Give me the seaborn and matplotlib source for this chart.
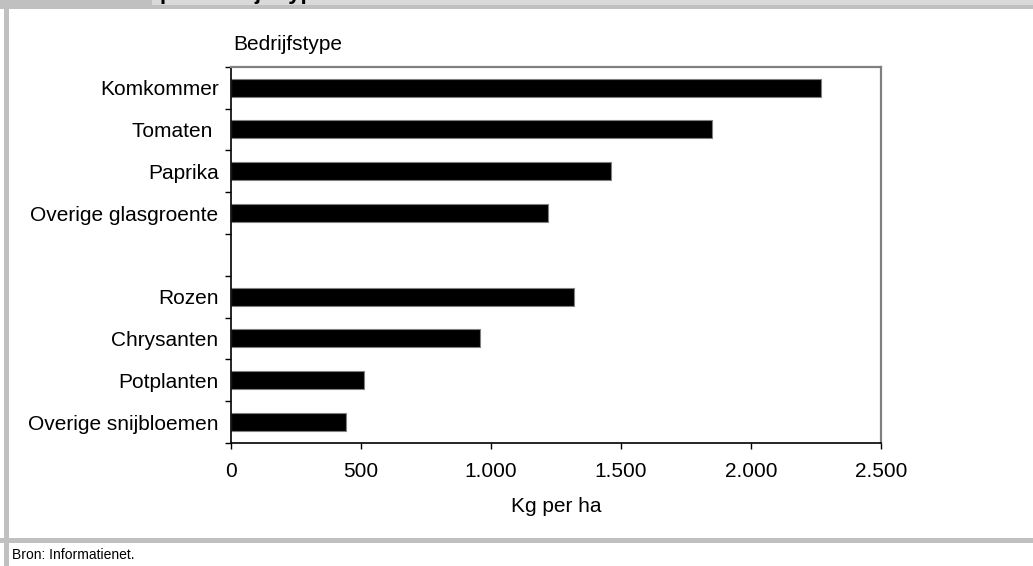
import numpy as np
import pandas as pd
import seaborn as sns
import matplotlib.pyplot as plt
from matplotlib.patches import Rectangle

# data
categories = ["Komkommer", "Tomaten ", "Paprika", "Overige glasgroente", " ",
              "Rozen", "Chrysanten", "Potplanten", "Overige snijbloemen"]
bar_categories = ["Komkommer", "Tomaten ", "Paprika", "Overige glasgroente",
                  "Rozen", "Chrysanten", "Potplanten", "Overige snijbloemen"]
kg_per_ha = [2270, 1850, 1460, 1220, 1320, 957, 511, 442]
x_ticks = [0, 500, 1000, 1500, 2000, 2500]
x_tick_labels = ["0", "500", "1.000", "1.500", "2.000", "2.500"]

W, H = 1033, 566
FS = 15

sns.set_style("white")
plt.rcParams['font.family'] = ['Liberation Sans', 'DejaVu Sans']
plt.rcParams['text.color'] = 'black'
plt.rcParams['axes.labelcolor'] = 'black'
plt.rcParams['xtick.color'] = 'black'
plt.rcParams['ytick.color'] = 'black'

fig = plt.figure(figsize=(W / 100, H / 100), dpi=100)
fig.patch.set_facecolor("white")


def px(x0, y0, w, h):
    # pixel box (top-left origin) -> figure fraction rect
    return (x0 / W, 1 - (y0 + h) / H, w / W, h / H)


# grey frame around the chart
for (x0, y0, w, h), c in [((0, 0, W, 9), "#c0c0c0"),
                          ((152, 0, W - 152, 4.5), "#d9d9d9"),
                          ((4, 0, 4.5, H), "#c0c0c0"),
                          ((0, 538, W, 5), "#c0c0c0")]:
    l, b, ww, hh = px(x0, y0, w, h)
    fig.add_artist(Rectangle((l, b), ww, hh, transform=fig.transFigure,
                             facecolor=c, edgecolor="none", zorder=0))

# cut-off bold title at the very top (only descenders visible)
fig.text(160 / W, 1 + 1.5 / H, "per bedrijfstype", fontsize=16, fontweight="bold",
         ha="left", va="baseline")

l, b, ww, hh = px(231, 66.7, 650, 376.3)
ax = fig.add_axes([l, b, ww, hh])

df = pd.DataFrame({"Bedrijfstype": bar_categories, "Kg per ha": kg_per_ha})
sns.barplot(data=df, x="Kg per ha", y="Bedrijfstype", order=categories, orient="h",
            color="black", edgecolor="#808080", linewidth=0.8, width=0.43,
            saturation=1, ax=ax)

ax.set_xlim(0, 2500)
ax.set_ylim(8.5, -0.5)
ax.set_xticks(x_ticks)
ax.set_xticklabels(x_tick_labels)
ax.set_yticks(np.arange(len(categories)))
ax.set_yticklabels(categories)
ax.set_yticks(np.arange(-0.5, len(categories), 1), minor=True)

ax.tick_params(axis="y", which="major", length=0, pad=9, labelsize=FS)
ax.tick_params(axis="y", which="minor", length=4, width=1, color="black", left=True)
ax.tick_params(axis="x", which="major", length=4, width=1, color="black", bottom=True,
               pad=10, labelsize=FS)

for side in ["left", "bottom"]:
    ax.spines[side].set_color("black")
    ax.spines[side].set_linewidth(1.2)
for side in ["top", "right"]:
    ax.spines[side].set_color("#808080")
    ax.spines[side].set_linewidth(1.6)

ax.set_ylabel("")
ax.set_xlabel("Kg per ha", fontsize=FS, labelpad=11)

fig.text(233 / W, 1 - 45 / H, "Bedrijfstype", fontsize=FS, ha="left", va="center")
fig.text(12 / W, 1 - 555 / H, "Bron: Informatienet.", fontsize=10, ha="left", va="center")

fig.savefig("out.png", dpi=100)
